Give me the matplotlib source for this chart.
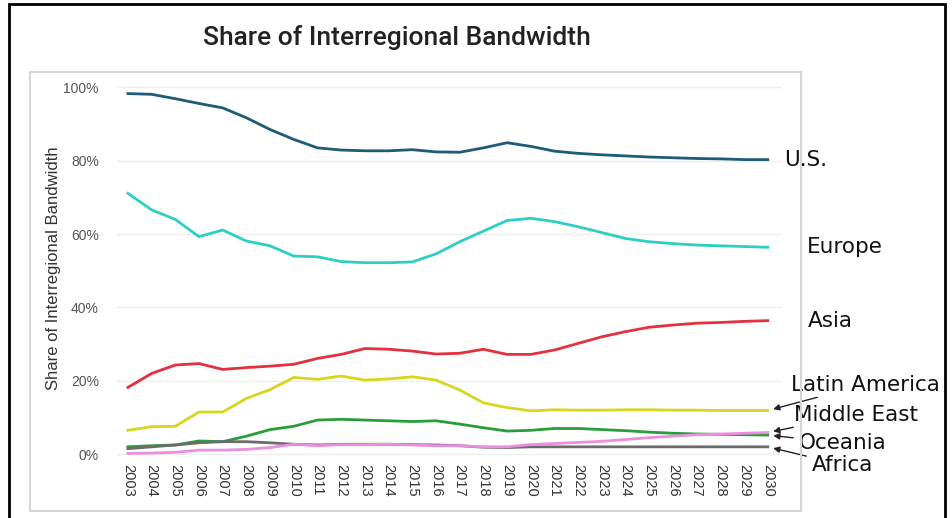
import numpy as np
import matplotlib
matplotlib.use("Agg")
import matplotlib.pyplot as plt
from matplotlib.patches import Rectangle

years = list(range(2003, 2031))

us = [98.3, 98.1, 96.9, 95.6, 94.4, 91.7, 88.5, 85.8, 83.5, 82.9, 82.7, 82.7, 83.0, 82.4,
      82.3, 83.5, 84.9, 83.9, 82.6, 82.0, 81.6, 81.3, 81.0, 80.8, 80.6, 80.5, 80.3, 80.3]
europe = [71.1, 66.6, 64.0, 59.3, 61.1, 58.1, 56.8, 54.0, 53.8, 52.5, 52.2, 52.2, 52.4, 54.6,
          57.9, 60.8, 63.7, 64.3, 63.4, 62.0, 60.4, 58.8, 57.9, 57.4, 57.0, 56.8, 56.6, 56.4]
asia = [18.2, 22.0, 24.3, 24.7, 23.1, 23.6, 24.0, 24.5, 26.1, 27.2, 28.8, 28.6, 28.1, 27.3,
        27.5, 28.6, 27.2, 27.2, 28.4, 30.2, 32.0, 33.4, 34.6, 35.2, 35.7, 35.9, 36.2, 36.4]
latin_america = [6.5, 7.5, 7.6, 11.5, 11.5, 15.2, 17.6, 20.9, 20.4, 21.3, 20.2, 20.5, 21.1, 20.2,
                 17.5, 14.0, 12.7, 11.8, 12.1, 12.0, 12.0, 12.1, 12.1, 12.0, 12.0, 11.9, 11.9, 11.9]
oceania = [2.0, 2.3, 2.5, 3.6, 3.4, 4.9, 6.7, 7.6, 9.3, 9.5, 9.3, 9.1, 8.9, 9.1,
           8.2, 7.2, 6.3, 6.5, 7.0, 7.0, 6.7, 6.4, 6.0, 5.7, 5.5, 5.4, 5.3, 5.2]
middle_east = [0.2, 0.3, 0.5, 1.1, 1.1, 1.3, 1.8, 2.7, 2.3, 2.6, 2.6, 2.7, 2.5, 2.3,
               2.3, 2.0, 2.0, 2.6, 2.9, 3.2, 3.5, 4.0, 4.5, 4.9, 5.3, 5.5, 5.7, 5.9]
africa = [1.5, 2.0, 2.5, 3.1, 3.4, 3.4, 3.1, 2.7, 2.5, 2.7, 2.7, 2.7, 2.6, 2.5,
          2.3, 1.9, 1.8, 2.0, 2.0, 2.0, 2.0, 2.0, 2.0, 2.0, 2.0, 2.0, 2.0, 2.0]

yticks = [0, 20, 40, 60, 80, 100]
ytick_labels = ["0%", "20%", "40%", "60%", "80%", "100%"]

fig = plt.figure(figsize=(9.52, 5.18), dpi=100)

# outer black frame and inner light box
fig.patches.append(Rectangle((9/952, -0.01), 936/952, 1 - 4/518 + 0.01, transform=fig.transFigure,
                             fill=False, edgecolor="black", lw=2))
fig.patches.append(Rectangle((30/952, 7/518), 771/952, 439/518, transform=fig.transFigure,
                             fill=False, edgecolor="#d5d5d5", lw=1.5))

ax = fig.add_axes([117/952, 62/518, 665/952, 376/518])

ax.plot(years, us, color="#1d5b79", lw=2)
ax.plot(years, europe, color="#2ccfc4", lw=2)
ax.plot(years, asia, color="#e5303e", lw=2)
ax.plot(years, latin_america, color="#d9d51f", lw=2)
ax.plot(years, oceania, color="#2a9d3a", lw=2)
ax.plot(years, africa, color="#6b6b6b", lw=2)
ax.plot(years, middle_east, color="#ea8fe0", lw=2)

ax.set_xlim(2002.54, 2030.6)
ax.set_ylim(-0.5, 102)
ax.set_yticks(yticks)
ax.set_yticklabels(ytick_labels, fontsize=10, color="#555555", family="Liberation Sans")
ax.set_xticks(years)
ax.set_xticklabels([str(y) for y in years], rotation=-90, fontsize=10.5, color="#333333",
                   family="Liberation Sans")
ax.tick_params(length=0, axis="y", pad=13)
ax.tick_params(length=0, axis="x", pad=6)
ax.grid(axis="y", color="#eeeeee", lw=1)
ax.set_axisbelow(True)
for s in ax.spines.values():
    s.set_visible(False)
ax.set_ylabel("Share of Interregional Bandwidth", fontsize=12, family="Liberation Sans",
              color="#333333", labelpad=2)

fig.text(397/952, 1 - 38/518, "Share of Interregional Bandwidth", ha="center", va="center",
         fontsize=19, family="Roboto", fontweight="medium", color="#222222")

# right side labels
lab = dict(fontsize=15.5, color="#111111", va="center", ha="left", annotation_clip=False)
ax.annotate("U.S.", xy=(years[-1], us[-1]), xytext=(16, 0), textcoords="offset pixels", **lab)
ax.annotate("Europe", xy=(years[-1], europe[-1]), xytext=(39, 0), textcoords="offset pixels", **lab)
ax.annotate("Asia", xy=(years[-1], asia[-1]), xytext=(40, 0), textcoords="offset pixels", **lab)

arr = dict(arrowstyle="-|>", color="#222222", lw=1, mutation_scale=9, shrinkA=0, shrinkB=4)
ax.annotate("Latin America", xy=(years[-1], latin_america[-1]), xytext=(23, 26),
            textcoords="offset pixels", arrowprops=arr, **lab)
ax.annotate("Middle East", xy=(years[-1], middle_east[-1]), xytext=(26, 18),
            textcoords="offset pixels", arrowprops=arr, **lab)
ax.annotate("Oceania", xy=(years[-1], oceania[-1]), xytext=(31, -8),
            textcoords="offset pixels", arrowprops=dict(arr, shrinkA=2), **lab)
ax.annotate("Africa", xy=(years[-1], africa[-1]), xytext=(44, -18),
            textcoords="offset pixels", arrowprops=dict(arr, shrinkA=2), **lab)

fig.savefig("out.png", dpi=100)
